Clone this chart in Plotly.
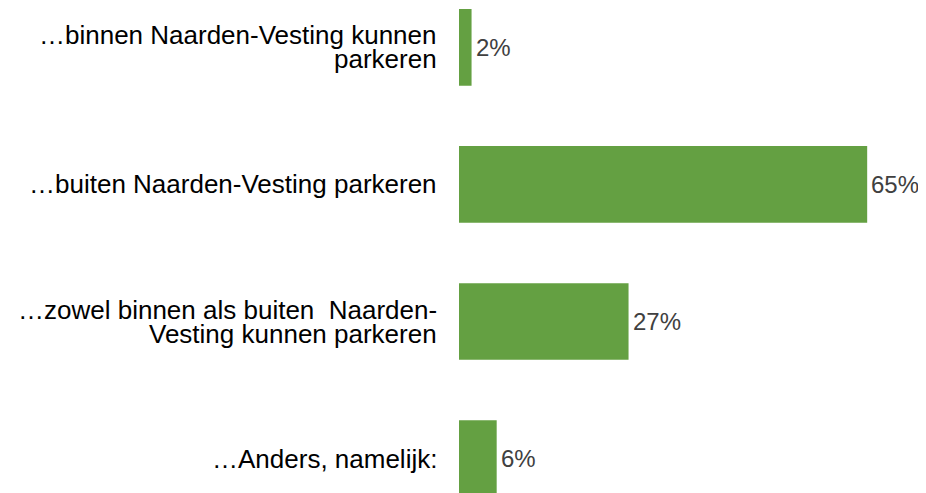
import plotly.graph_objects as go

categories = [
    "…binnen Naarden-Vesting kunnen<br>parkeren",
    "…buiten Naarden-Vesting parkeren",
    "…zowel binnen als buiten  Naarden-<br>Vesting kunnen parkeren",
    "…Anders, namelijk:",
]
values = [2, 65, 27, 6]
labels = ["2%", "65%", "27%", "6%"]

FONT = "Liberation Sans, Arial, Helvetica, sans-serif"

fig = go.Figure(go.Bar(
    x=values,
    y=categories,
    orientation="h",
    marker=dict(color="#64a042", line=dict(width=0)),
    width=0.56,
    cliponaxis=False,
    hoverinfo="skip",
))

annotations = []
# category labels as right-aligned text lines with tight line spacing
line_step = 24
for cat in categories:
    lines = cat.split("<br>")
    n = len(lines)
    for k, line in enumerate(lines):
        annotations.append(dict(
            x=0, y=cat, xref="x", yref="y",
            text=line.replace(" ", "\u00a0"),
            showarrow=False,
            xanchor="right", yanchor="middle",
            xshift=-20,
            yshift=((n - 1) / 2 - k) * line_step,
            font=dict(family=FONT, size=26, color="#000000"),
        ))

# value labels just right of each bar
for cat, val, lab in zip(categories, values, labels):
    annotations.append(dict(
        x=val, y=cat, xref="x", yref="y",
        text=lab,
        showarrow=False,
        xanchor="left", yanchor="middle",
        xshift=2,
        font=dict(family=FONT, size=24, color="#404040"),
    ))

fig.update_layout(
    width=926,
    height=493,
    margin=dict(l=451, r=0, t=0, b=0),
    plot_bgcolor="white",
    paper_bgcolor="white",
    showlegend=False,
    annotations=annotations,
    xaxis=dict(range=[0, 75.64], visible=False),
    yaxis=dict(
        type="category",
        categoryorder="array",
        categoryarray=categories,
        range=[3.310, -0.288],
        showgrid=False,
        zeroline=False,
        showline=False,
        showticklabels=False,
    ),
)

fig.write_html("out.html")
